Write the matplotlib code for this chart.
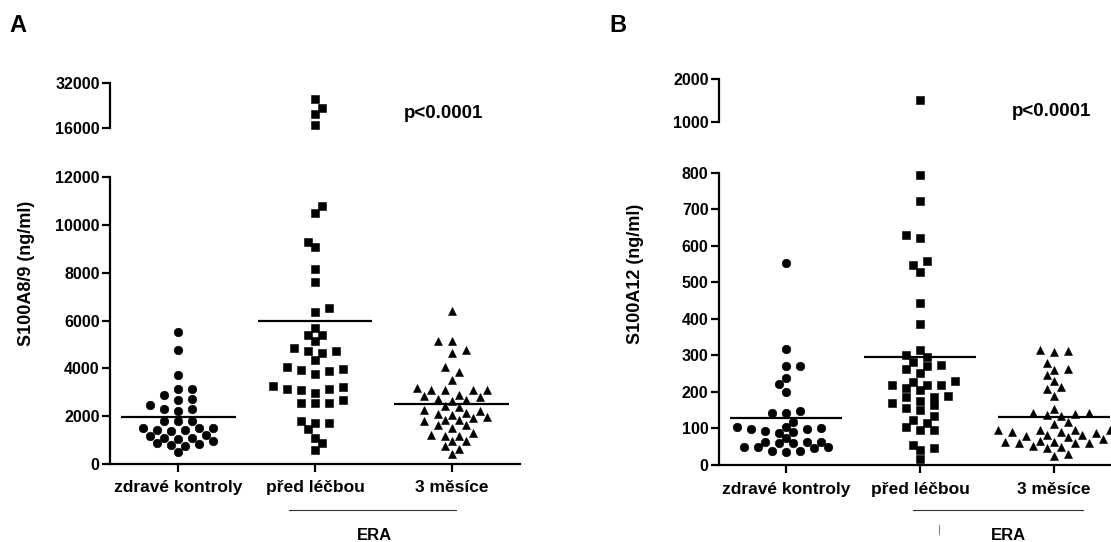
import numpy as np
import matplotlib
matplotlib.use("Agg")
import matplotlib.pyplot as plt

plt.rcParams['font.family'] = ['Liberation Sans', 'DejaVu Sans']
plt.rcParams['font.weight'] = 'bold'

categories = ['zdravé kontroly', 'před léčbou', '3 měsíce']

# S100A8/9 (ng/ml)
kontroly_a = [5510, 4780, 3730, 3150, 3150, 2870, 2730, 2690, 2480, 2290, 2290,
              2220, 1800, 1780, 1800, 1520, 1520, 1430, 1390, 1430, 1500, 1040,
              870, 1150, 800, 1080, 1080, 1220, 760, 840, 940, 480]
pred_a = [26200, 22900, 20800, 17000, 10800, 10520, 9080, 9290, 8180, 7610,
          6530, 6350, 5670, 5380, 5410, 5160, 4850, 4710, 4620, 4740, 4330,
          4040, 3920, 3780, 3870, 3970, 3270, 2970, 3150, 3130, 3200, 3110,
          2550, 2550, 2550, 2660, 1780, 1710, 1450, 1710, 1100, 890, 590]
mesice_a = [6420, 5160, 5160, 4650, 4750, 4040, 3850, 3530, 3180, 3080, 3080,
            3080, 3080, 2900, 2850, 2780, 2710, 2690, 2640, 2430, 2380, 2220,
            2130, 2270, 2080, 1960, 1850, 1850, 1780, 1920, 2060, 1610, 1610,
            1500, 1290, 1180, 1150, 1220, 940, 730, 630, 940, 420]

# S100A12 (ng/ml)
kontroly_b = [554, 317, 271, 271, 237, 221, 199, 141, 141, 148, 98, 94, 87,
              105, 119, 105, 90, 98, 100, 50, 50, 64, 39, 59, 73, 36, 59, 39,
              64, 46, 64, 50]
pred_b = [1510, 794, 723, 630, 622, 559, 529, 548, 443, 386, 315, 301, 295,
          283, 271, 253, 262, 274, 226, 219, 212, 205, 190, 219, 219, 231, 187,
          176, 163, 151, 157, 169, 187, 134, 114, 96, 96, 105, 123, 47, 41, 55, 16]
mesice_b = [315, 310, 313, 278, 260, 263, 246, 230, 207, 214, 189, 153, 143,
            140, 134, 137, 141, 119, 97, 112, 97, 96, 91, 82, 70, 61, 64, 52,
            59, 46, 82, 64, 66, 87, 76, 50, 91, 79, 61, 96, 25, 30]

markers = ['o', 's', '^']
GAP_PX = 8.5    # minimum centre distance between dots (pixels)
STEP_PX = 7.0   # horizontal grid for dot columns (pixels)


def swarm(ax, x0, values):
    """Dot-plot offsets on a fixed column grid, computed in display space."""
    values = np.asarray(values, float)
    if len(values) == 0:
        return values
    ys = ax.transData.transform(np.column_stack([np.full(len(values), x0), values]))[:, 1]
    unit = ax.transData.transform((1, 0))[0] - ax.transData.transform((0, 0))[0]
    offs = np.zeros(len(values))
    placed = []
    flip = 1
    for i in np.argsort(ys):
        y = ys[i]
        near = [(px, py) for px, py in placed if abs(py - y) < GAP_PX]
        k = 0
        while True:
            found = None
            for c in ((k, -k) if flip > 0 else (-k, k)):
                cx = c * STEP_PX
                if all((cx - px) ** 2 + (y - py) ** 2 >= GAP_PX ** 2 for px, py in near):
                    found = cx
                    break
            if found is not None:
                break
            k += 1
        if k:
            flip = -flip
        offs[i] = found
        placed.append((found, y))
    return x0 + offs / unit


def panel(low_rect, high_rect, groups, low_lim, low_ticks, high_lim, high_ticks):
    lo = fig.add_axes(low_rect)
    hi = fig.add_axes(high_rect)
    for ax in (lo, hi):
        ax.set_xlim(-0.5, 2.5)
        for s in ('top', 'right'):
            ax.spines[s].set_visible(False)
        ax.spines['left'].set_linewidth(1.6)
        ax.tick_params(axis='y', length=6, width=1.6, pad=1.5, labelsize=11.5)
    lo.set_ylim(*low_lim)
    lo.set_yticks(low_ticks)
    hi.set_ylim(*high_lim)
    hi.set_yticks(high_ticks)
    hi.spines['bottom'].set_visible(False)
    hi.set_xticks([])
    lo.spines['bottom'].set_linewidth(1.6)
    lo.set_xticks(range(len(categories)))
    lo.set_xticklabels(categories)
    lo.tick_params(axis='x', length=6, width=1.6, pad=6, labelsize=12.5)

    for i, (vals, m) in enumerate(zip(groups, markers)):
        vals = np.asarray(vals, float)
        for ax, sel in ((lo, vals <= low_lim[1]), (hi, vals >= high_lim[0])):
            v = vals[sel]
            ax.plot(swarm(ax, i, v), v, ls='none', marker=m, ms=6.3 if m == 's' else 6.2,
                    color='black', mec='black', mew=0.4, clip_on=False)
        lo.hlines(vals.mean(), i - 0.42, i + 0.42, color='black', lw=1.6)
    return lo, hi


fig = plt.figure(figsize=(11.11, 5.42), dpi=100)
W, H = 1111.0, 542.0


def rect(x0, x1, ytop, ybot):
    return [x0 / W, 1 - ybot / H, (x1 - x0) / W, (ybot - ytop) / H]


panel(rect(110, 520, 177.3, 463.8), rect(110, 520, 82.7, 127.7),
      [kontroly_a, pred_a, mesice_a], (0, 12000), range(0, 12001, 2000),
      (16000, 32000), [16000, 32000])
panel(rect(719, 1121, 172.8, 465), rect(719, 1121, 78.8, 122),
      [kontroly_b, pred_b, mesice_b], (0, 800), range(0, 801, 100),
      (1000, 2000), [1000, 2000])

# panel letters, axis titles and annotations
fig.text(9 / W, 1 - 26 / H, 'A', fontsize=17, fontweight='bold', va='center')
fig.text(609 / W, 1 - 25 / H, 'B', fontsize=17, fontweight='bold', va='center')
fig.text(27 / W, 1 - 273 / H, 'S100A8/9 (ng/ml)', rotation=90, fontsize=13,
         ha='center', va='center')
fig.text(635.5 / W, 1 - 273.5 / H, 'S100A12 (ng/ml)', rotation=90, fontsize=13,
         ha='center', va='center')
fig.text(444 / W, 1 - 114 / H, 'p<0.0001', fontsize=13.5, ha='center', va='center')
fig.text(1052 / W, 1 - 111 / H, 'p<0.0001', fontsize=13.5, ha='center', va='center')

# ERA brackets
fig.add_artist(plt.Line2D([289 / W, 456 / W], [1 - 510 / H] * 2, color='#333333', lw=0.8))
fig.text(374 / W, 1 - 535 / H, 'ERA', fontsize=12, ha='center', va='center')
fig.add_artist(plt.Line2D([913 / W, 1083 / W], [1 - 510 / H] * 2, color='#333333', lw=0.8))
fig.add_artist(plt.Line2D([938.5 / W] * 2, [1 - 525 / H, 1 - 534 / H], color='#888888', lw=0.8))
fig.text(1008 / W, 1 - 536 / H, 'ERA', fontsize=12, ha='center', va='center')

fig.savefig('out.png', dpi=100)
